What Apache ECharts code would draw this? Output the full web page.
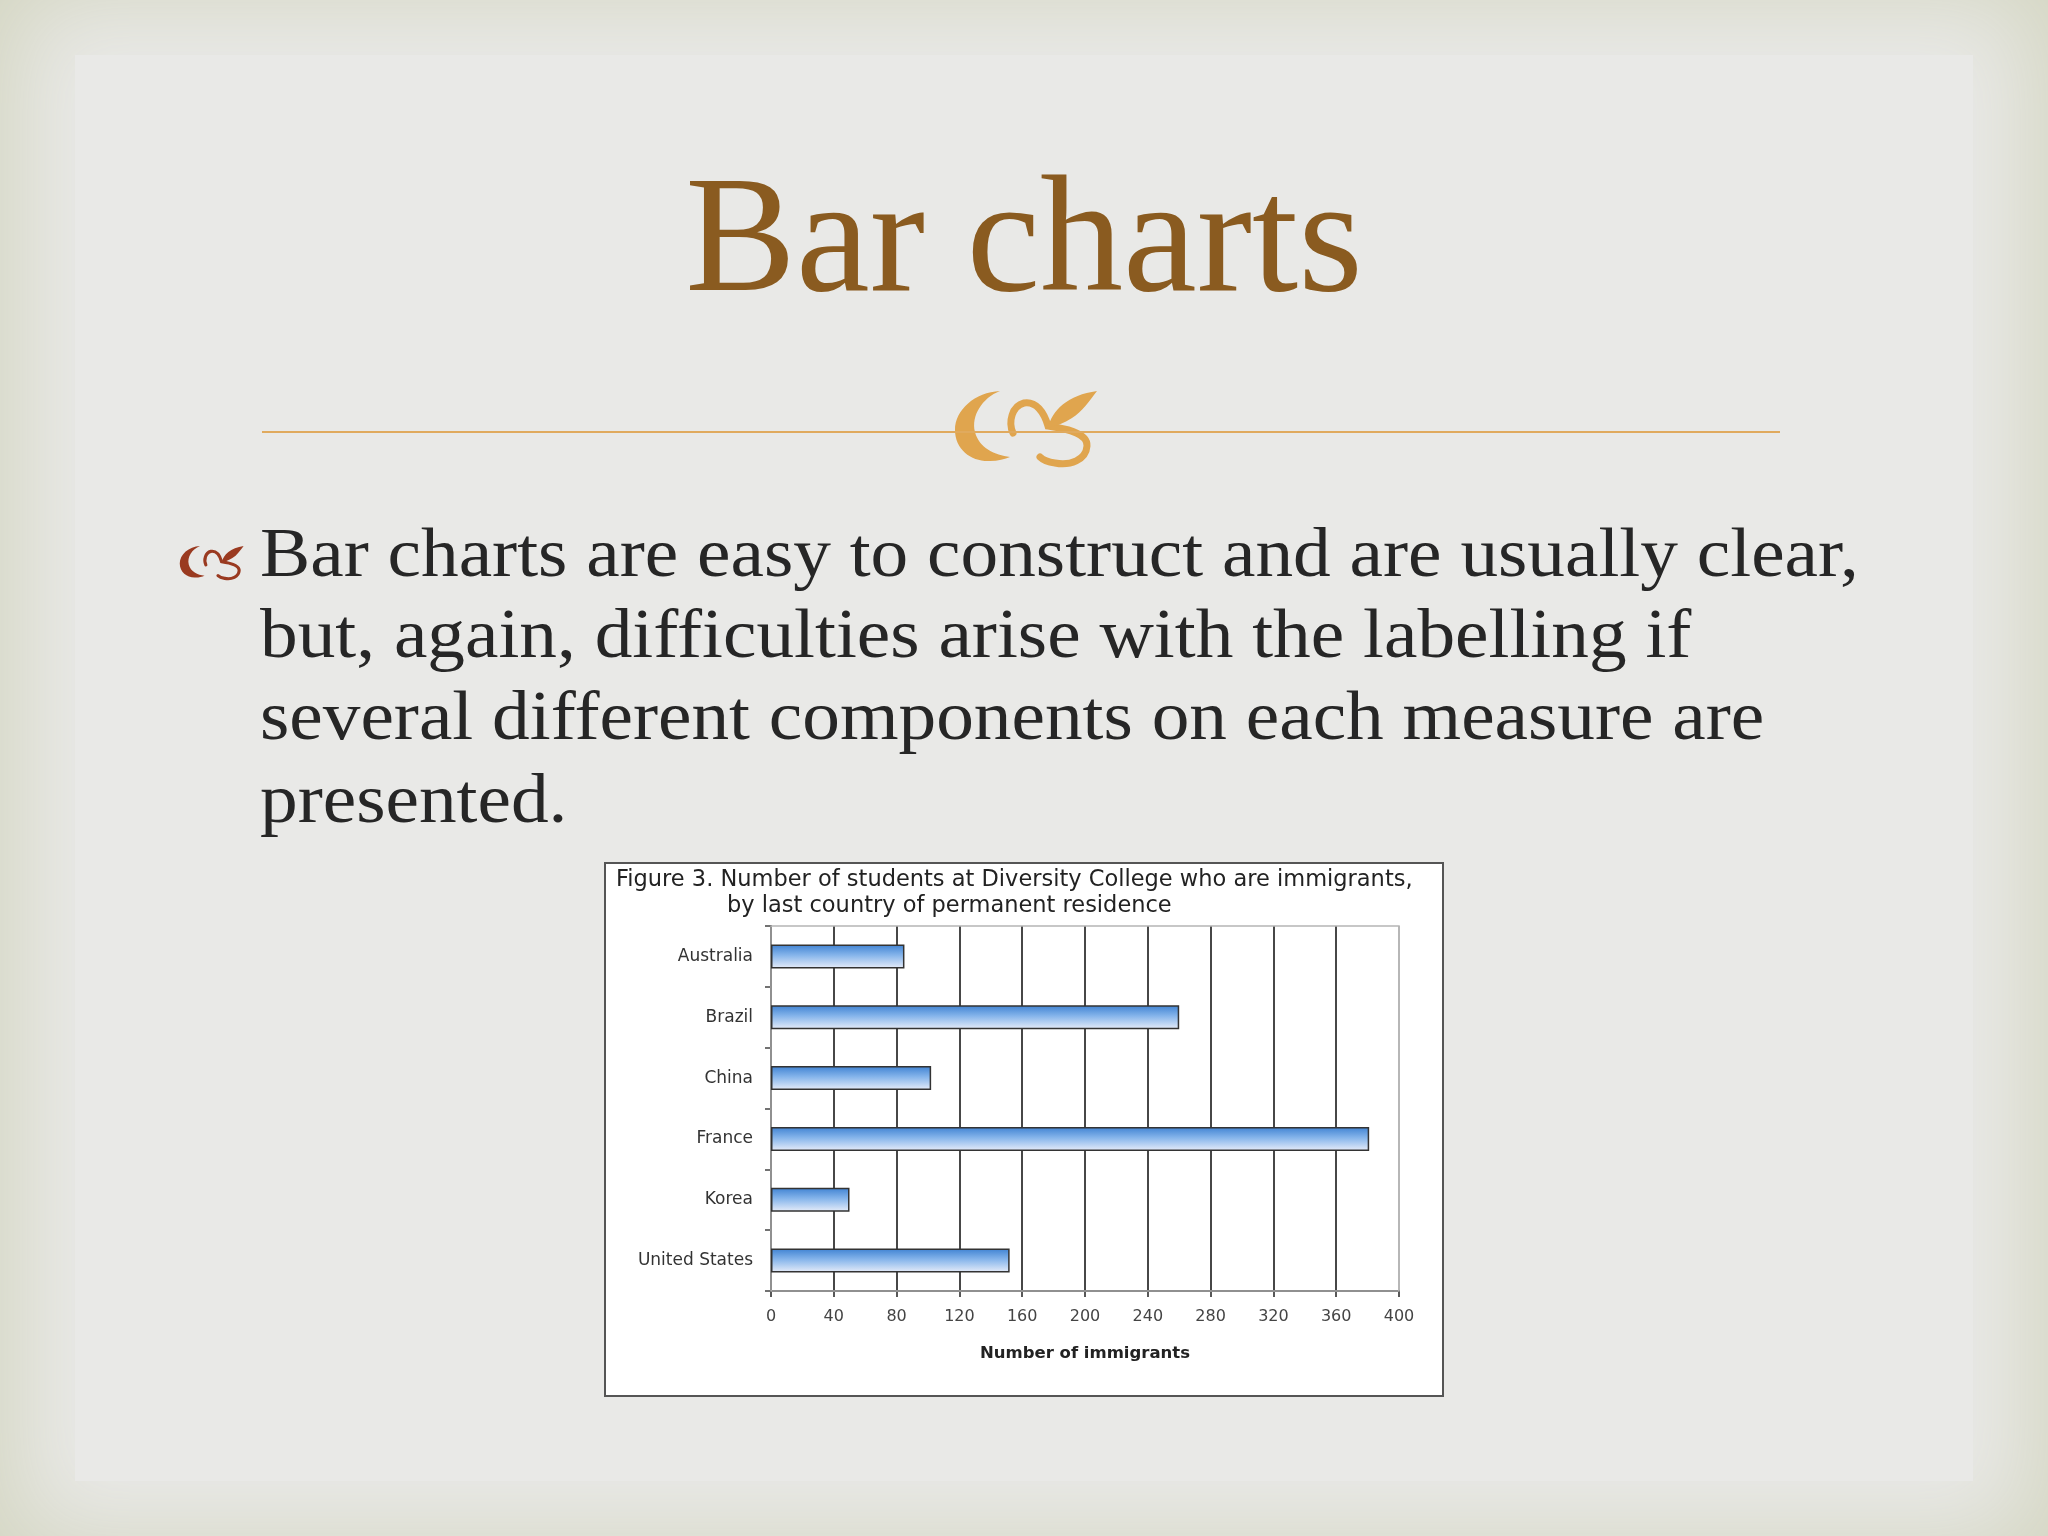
<!DOCTYPE html>
<html>
<head>
<meta charset="utf-8">
<script src="https://cdn.jsdelivr.net/npm/echarts@6/dist/echarts.min.js"></script>
<style>
html,body{margin:0;padding:0;width:2048px;height:1536px;overflow:hidden;}
body{background:#d4d6c2;}
#bg{position:absolute;left:75px;top:55px;width:1898px;height:1426px;background:#e9e9e7;box-shadow:0 0 90px 55px #e9e9e7;}
#chart{position:absolute;left:0;top:0;width:2048px;height:1536px;}
</style>
</head>
<body>
<div id="bg"></div>
<div id="chart"></div>
<script>
var categories = ['Australia', 'Brazil', 'China', 'France', 'Korea', 'United States'];
var immigrants = [85, 260, 102, 381, 50, 152];
var xTickLabels = ['0', '40', '80', '120', '160', '200', '240', '280', '320', '360', '400'];
var slideTitle = 'Bar charts';
var bulletLines = [
  'Bar charts are easy to construct and are usually clear,',
  'but, again, difficulties arise with the labelling if',
  'several different components on each measure are',
  'presented.'
];
var figTitle1 = 'Figure 3. Number of students at Diversity College who are immigrants,';
var figTitle2 = 'by last country of permanent residence';
var xAxisName = 'Number of immigrants';

try {
  echarts.graphic.registerShape('ornC', echarts.graphic.extendPath('M1000,391 C975,392 955,410 955,430 C955,450 972,462 990,461 C998,461 1005,459 1010,457 C995,455 979,448 975,432 C971,416 982,398 1000,391 Z', {}));
  echarts.graphic.registerShape('ornS', echarts.graphic.extendPath('M1013,433 C1008,422 1012,406 1024,403 C1036,401 1044,412 1048,426 C1062,428 1088,432 1087,446 C1086,460 1070,466 1055,463 C1048,462 1043,460 1040,457', {}));
  echarts.graphic.registerShape('ornL', echarts.graphic.extendPath('M1048,428 C1052,410 1068,395 1097,391 C1090,400 1082,412 1072,418 C1064,423 1056,426 1048,428 Z', {}));
} catch (e) {}

function ornament(color, x, y, s) {
  return {
    type: 'group', x: x, y: y, scaleX: s, scaleY: s, silent: true, z: 5,
    children: [
      { type: 'ornC', shape: {}, style: { fill: color } },
      { type: 'ornS', shape: {}, style: { fill: null, stroke: color, lineWidth: 7, lineCap: 'round' } },
      { type: 'ornL', shape: {}, style: { fill: color } }
    ]
  };
}

var chart = echarts.init(document.getElementById('chart'), null, { renderer: 'canvas' });

var graphics = [
  { type: 'text', x: 1024, y: 329, z: 1, style: { text: slideTitle, fill: '#8a5b20', font: '166px "Liberation Serif", serif', textAlign: 'center', textVerticalAlign: 'bottom' } },
  { type: 'line', z: 1, shape: { x1: 262, y1: 432, x2: 1780, y2: 432 }, style: { stroke: '#e0aa5e', lineWidth: 2 } },
  { type: 'rect', z: 0, shape: { x: 605, y: 863, width: 838, height: 533 }, style: { fill: '#ffffff', stroke: '#555555', lineWidth: 2 } },
  { type: 'text', z: 2, x: 616, y: 869, style: { text: figTitle1, fill: '#222', font: '22.5px "DejaVu Sans", sans-serif' } },
  { type: 'text', z: 2, x: 727, y: 895, style: { text: figTitle2, fill: '#222', font: '22.5px "DejaVu Sans", sans-serif' } }
];
bulletLines.forEach(function (t, i) {
  graphics.push({ type: 'text', z: 1, x: 260, y: [593, 674, 756, 839][i], scaleX: 1.076, style: { text: t, fill: '#262626', font: '70px "Liberation Serif", serif', textVerticalAlign: 'bottom' } });
});
graphics.push(ornament('#e0a54e', 0, 0, 1));
graphics.push(ornament('#9a3a20', -250, 370, 0.45));

chart.setOption({
  animation: false,
  backgroundColor: 'transparent',
  graphic: graphics,
  grid: { left: 771, right: 649, top: 926, bottom: 245, show: true, borderColor: '#b5b5b5', borderWidth: 1.5, z: 3 },
  xAxis: {
    type: 'value', min: 0, max: 400, interval: 40,
    name: xAxisName, nameLocation: 'middle', nameGap: 54,
    nameTextStyle: { fontFamily: 'DejaVu Sans', fontSize: 16.5, fontWeight: 'bold', color: '#222' },
    axisLine: { show: true, lineStyle: { color: '#222', width: 2 } },
    axisTick: { show: true, length: 6, lineStyle: { color: '#222', width: 1.5 } },
    axisLabel: { fontFamily: 'DejaVu Sans', fontSize: 16, color: '#444', margin: 18,
      formatter: function (v) { return xTickLabels[Math.round(v / 40)]; } },
    splitLine: { show: true, lineStyle: { color: ['#222', '#333', '#333', '#333', '#333', '#333', '#333', '#333', '#333', '#333', '#b5b5b5'], width: 1.8 } }
  },
  yAxis: {
    type: 'category', data: categories, inverse: true,
    axisLine: { show: true, lineStyle: { color: '#222', width: 2 } },
    axisTick: { show: true, length: 6, inside: false, lineStyle: { color: '#444', width: 1.5 } },
    axisLabel: { fontFamily: 'DejaVu Sans', fontSize: 17, color: '#333', margin: 18 },
    splitLine: { show: false }
  },
  series: [{
    type: 'bar', data: immigrants, barWidth: 24, z: 4,
    itemStyle: {
      color: new echarts.graphic.LinearGradient(0, 0, 0, 1, [
        { offset: 0, color: '#3f82d2' },
        { offset: 0.45, color: '#86b5eb' },
        { offset: 1, color: '#e8edf9' }
      ]),
      borderColor: '#333', borderWidth: 1.5
    }
  }]
});
</script>
</body>
</html>
